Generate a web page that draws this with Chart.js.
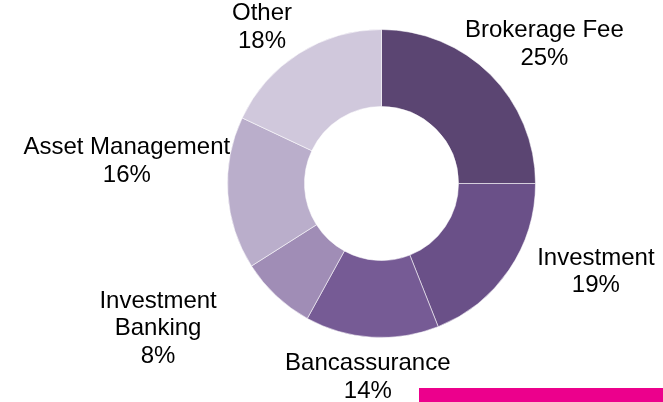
<!DOCTYPE html>
<html>
<head>
<meta charset="utf-8">
<script src="https://cdn.jsdelivr.net/npm/chart.js@4/dist/chart.umd.min.js"></script>
<style>
    html, body { margin: 0; padding: 0; background: #ffffff; overflow: hidden; }
    #wrap { position: relative; width: 663px; height: 402px; overflow: hidden; }
    #mix { display: block; }
    #accent { position: absolute; left: 419px; top: 388px; width: 244px; height: 14px; background: #ec008c; }
</style>
</head>
<body>
<div id="wrap">
    <canvas id="mix" width="663" height="402"></canvas>
    <div id="accent"></div>
</div>
<script>
// Revenue mix, clockwise from 12 o'clock
const categories = ['Brokerage Fee', 'Investment', 'Bancassurance', ['Investment', 'Banking'], 'Asset Management', 'Other'];
const shares = [25, 19, 14, 8, 16, 18];

const sliceColors = ['#5b4572', '#6a5088', '#765b95', '#a08db6', '#baaecb', '#d0c8dc'];
// where each label block sits, relative to the outer edge at the slice's mid angle
const labelNudges = [[54, -32], [87, 0], [-4, 38], [-118, 31], [-101, -34], [-37, -28]];

const outsideLabels = {
    id: 'outsideLabels',
    afterDatasetsDraw(chart) {
        const ctx = chart.ctx;
        const arcs = chart.getDatasetMeta(0).data;
        const total = shares.reduce((a, b) => a + b, 0);
        const lineHeight = 27.6;
        ctx.save();
        ctx.font = '24px "Liberation Sans", Arial, sans-serif';
        ctx.fillStyle = '#000000';
        ctx.textAlign = 'center';
        ctx.textBaseline = 'alphabetic';
        arcs.forEach((arc, i) => {
            const p = arc.getProps(['x', 'y', 'startAngle', 'endAngle', 'outerRadius'], true);
            const mid = (p.startAngle + p.endAngle) / 2;
            const cx = p.x + Math.cos(mid) * p.outerRadius + labelNudges[i][0];
            const cy = p.y + Math.sin(mid) * p.outerRadius + labelNudges[i][1];
            const name = [].concat(categories[i]);
            const lines = [...name, Math.round(shares[i] / total * 100) + '%'];
            lines.forEach((line, j) => {
                const base = cy + (j - (lines.length - 1) / 2) * lineHeight + 8.6;
                ctx.fillText(line, cx, base);
            });
        });
        ctx.restore();
    }
};

new Chart(document.getElementById('mix'), {
    type: 'doughnut',
    data: {
        labels: categories,
        datasets: [{
            data: shares,
            backgroundColor: sliceColors,
            borderColor: 'rgba(255, 255, 255, 0.55)',
            borderWidth: 1
        }]
    },
    options: {
        responsive: false,
        animation: false,
        cutout: '50%',
        layout: {
            padding: { left: 227, top: 29, right: 127, bottom: 64 }
        },
        plugins: {
            legend: { display: false },
            tooltip: { enabled: false }
        }
    },
    plugins: [outsideLabels]
});
</script>
</body>
</html>
